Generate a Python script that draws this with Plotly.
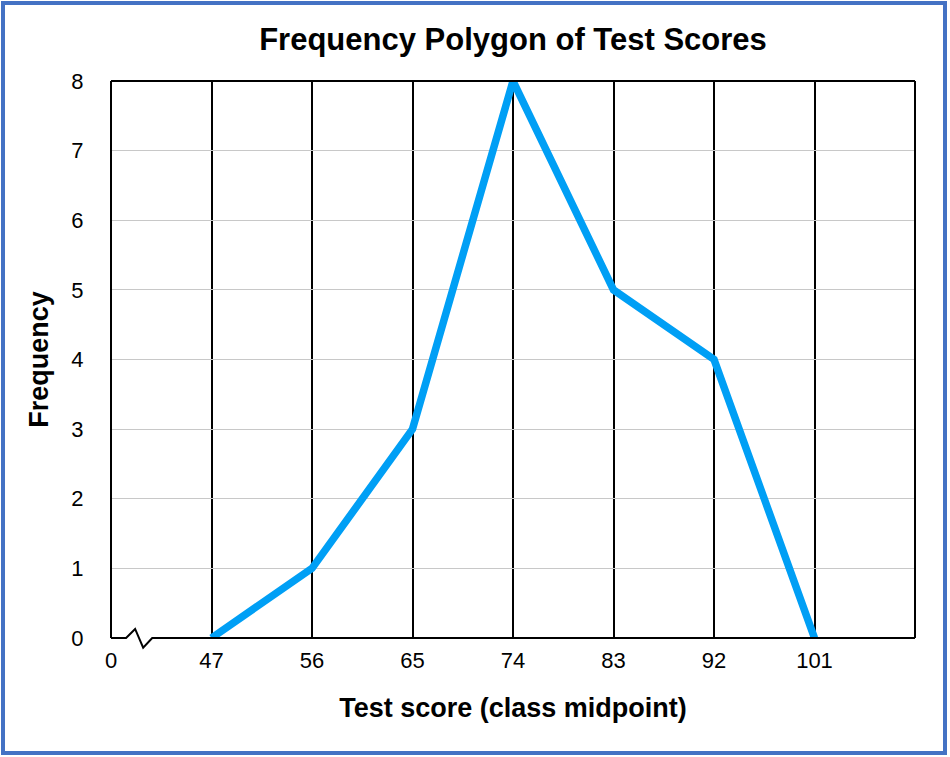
import plotly.graph_objects as go

# Data
midpoints = ["47", "56", "65", "74", "83", "92", "101"]
frequencies = [0, 1, 3, 8, 5, 4, 0]
tick_labels = ["0", "47", "56", "65", "74", "83", "92", "101"]

x_pos = list(range(1, len(midpoints) + 1))

fig = go.Figure()
fig.add_trace(go.Scatter(
    x=x_pos, y=frequencies, mode="lines",
    line=dict(color="#009FF5", width=7.5),
    cliponaxis=False, hoverinfo="skip", showlegend=False,
))

font_family = "Liberation Sans, Arial, sans-serif"

fig.update_layout(
    width=950, height=757,
    margin=dict(l=111, r=35, t=81, b=119),
    paper_bgcolor="white", plot_bgcolor="white",
    title=dict(text="<b>Frequency Polygon of Test Scores</b>", x=0.5, xref="paper", xanchor="center",
               y=1 - 39 / 757, yanchor="middle",
               font=dict(family=font_family, size=31, color="black")),
    font=dict(family=font_family, color="black"),
    xaxis=dict(
        range=[0, 8], tickmode="array", tickvals=list(range(0, 8)), ticktext=tick_labels,
        showgrid=True, gridcolor="black", gridwidth=1.5,
        showline=False, zeroline=False,
        tickfont=dict(size=22), ticks="outside", ticklen=3, tickcolor="rgba(0,0,0,0)",
        title=dict(text="<b>Test score (class midpoint)</b>", font=dict(size=27), standoff=25),
    ),
    yaxis=dict(
        range=[0, 8], tickmode="array", tickvals=list(range(0, 9)),
        showgrid=True, gridcolor="#c8c8c8", gridwidth=1,
        showline=False, zeroline=False,
        tickfont=dict(size=22), ticks="outside", ticklen=22, tickcolor="rgba(0,0,0,0)",
        title=dict(text="<b>Frequency</b>", font=dict(size=27), standoff=14),
    ),
)

# Plot frame (left, top, right) in paper coordinates (x data / 8)
frame = dict(color="black", width=2)
fig.add_shape(type="line", xref="paper", yref="paper", x0=0, x1=0, y0=0, y1=1, line=frame)
fig.add_shape(type="line", xref="paper", yref="paper", x0=0, x1=1, y0=1, y1=1, line=frame)
fig.add_shape(type="line", xref="paper", yref="paper", x0=1, x1=1, y0=0, y1=1, line=frame)
# Bottom axis with break symbol
brk_x = [0, 0.15, 0.24, 0.32, 0.41, 8]
brk_y = [0, 0, 0.13, -0.14, 0, 0]
path = "M " + " L ".join(f"{bx / 8:.5f} {by / 8:.5f}" for bx, by in zip(brk_x, brk_y))
fig.add_shape(type="path", xref="paper", yref="paper", path=path, line=frame)

# Outer blue border
fig.add_shape(type="rect", xref="paper", yref="paper",
              x0=(3 - 111) / 804, x1=(945 - 111) / 804,
              y0=(638 - 753) / 557, y1=(638 - 3) / 557,
              line=dict(color="#4472C4", width=4), fillcolor="rgba(0,0,0,0)")

fig.write_html("out.html")
